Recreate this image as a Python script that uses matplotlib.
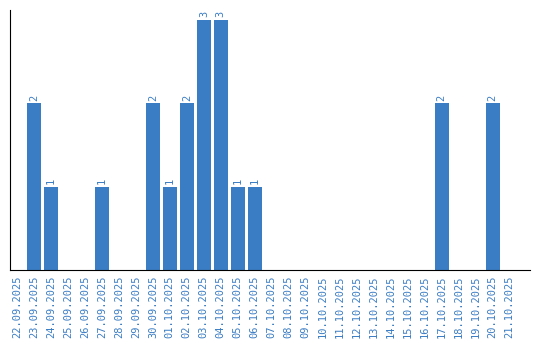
import matplotlib
matplotlib.use("Agg")
import matplotlib.pyplot as plt
import numpy as np

# dates and counts
dates = ["22.09.2025", "23.09.2025", "24.09.2025", "25.09.2025", "26.09.2025",
         "27.09.2025", "28.09.2025", "29.09.2025", "30.09.2025", "01.10.2025",
         "02.10.2025", "03.10.2025", "04.10.2025", "05.10.2025", "06.10.2025",
         "07.10.2025", "08.10.2025", "09.10.2025", "10.10.2025", "11.10.2025",
         "12.10.2025", "13.10.2025", "14.10.2025", "15.10.2025", "16.10.2025",
         "17.10.2025", "18.10.2025", "19.10.2025", "20.10.2025", "21.10.2025"]
counts = [0, 2, 1, 0, 0, 1, 0, 0, 2, 1, 2, 3, 3, 1, 1,
          0, 0, 0, 0, 0, 0, 0, 0, 0, 0, 2, 0, 0, 2, 0]

blue = "#3b7dc4"

fig = plt.figure(figsize=(5.4, 3.4), dpi=100)
ax = fig.add_axes([0.0185, 0.206, 0.963, 0.765])

x = np.arange(len(dates))
ax.bar(x, counts, width=0.82, color=blue)

# value labels above the bars
for xi, c in zip(x, counts):
    if c > 0:
        ax.text(xi, c + 0.03, str(c), rotation=90, ha="center", va="bottom",
                color=blue, fontsize=7.5, family="DejaVu Sans Mono")

ax.set_xticks(x)
ax.set_xticklabels(dates, rotation=90, color=blue, fontsize=7.5,
                   family="DejaVu Sans Mono")
ax.tick_params(axis="x", length=0, pad=4)
ax.set_yticks([])
ax.set_xlim(-0.41, 30.2)
ax.set_ylim(0, 3.12)
ax.spines["top"].set_visible(False)
ax.spines["right"].set_visible(False)

plt.savefig("out.png", dpi=100)
plt.close()
